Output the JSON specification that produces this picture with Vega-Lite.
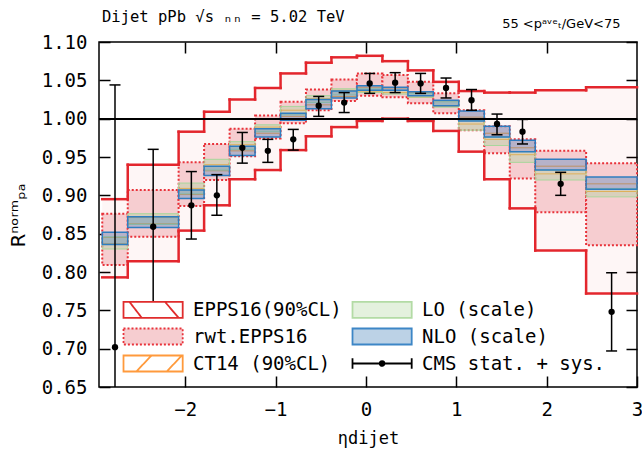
{
  "$schema": "https://vega.github.io/schema/vega-lite/v6.json",
  "width": 538,
  "height": 345,
  "autosize": {"type": "none"},
  "padding": {"left": 99, "top": 42, "right": 5, "bottom": 67},
  "config": {
    "view": {"stroke": "black", "strokeWidth": 1.5},
    "font": "DejaVu Sans Mono",
    "axis": {"domain": false, "grid": false, "tickColor": "black", "tickWidth": 1.5, "labelColor": "black", "titleColor": "black", "titleFontWeight": "normal", "labelFont": "DejaVu Sans Mono", "titleFont": "DejaVu Sans Mono"}
  },
  "title": {"text": "Dijet pPb √s ₙₙ = 5.02 TeV", "anchor": "start", "frame": "group", "dx": 3, "dy": 18, "offset": 10, "fontSize": 15.5, "font": "DejaVu Sans Mono", "fontWeight": "normal", "color": "black"},
  "data": {"values": [
    {"lo":-2.917,"hi":-2.635,"c":-2.776,"eL":0.793,"eH":0.895,"rL":0.809,"rH":0.876,"tL":0.837,"tH":0.845,"lL":0.830,"lH":0.846,"nL":0.836,"nH":0.852,"v":0.702,"vL":0.356,"vH":1.044},
    {"lo":-2.635,"hi":-2.072,"c":-2.3535,"eL":0.814,"eH":0.940,"rL":0.846,"rH":0.907,"tL":0.863,"tH":0.871,"lL":0.862,"lH":0.876,"nL":0.858,"nH":0.872,"v":0.859,"vL":0.760,"vH":0.960},
    {"lo":-2.072,"hi":-1.790,"c":-1.931,"eL":0.854,"eH":0.983,"rL":0.886,"rH":0.943,"tL":0.901,"tH":0.909,"lL":0.902,"lH":0.916,"nL":0.896,"nH":0.907,"v":0.887,"vL":0.843,"vH":0.931},
    {"lo":-1.790,"hi":-1.508,"c":-1.649,"eL":0.887,"eH":1.009,"rL":0.920,"rH":0.967,"tL":0.932,"tH":0.940,"lL":0.933,"lH":0.947,"nL":0.926,"nH":0.938,"v":0.900,"vL":0.874,"vH":0.927},
    {"lo":-1.508,"hi":-1.226,"c":-1.367,"eL":0.921,"eH":1.025,"rL":0.951,"rH":0.987,"tL":0.958,"tH":0.966,"lL":0.960,"lH":0.970,"nL":0.952,"nH":0.964,"v":0.962,"vL":0.942,"vH":0.982},
    {"lo":-1.226,"hi":-0.944,"c":-1.085,"eL":0.933,"eH":1.040,"rL":0.974,"rH":1.004,"tL":0.981,"tH":0.989,"lL":0.983,"lH":0.992,"nL":0.976,"nH":0.987,"v":0.958,"vL":0.943,"vH":0.973},
    {"lo":-0.944,"hi":-0.663,"c":-0.8035,"eL":0.959,"eH":1.059,"rL":0.994,"rH":1.022,"tL":1.003,"tH":1.011,"lL":1.005,"lH":1.016,"nL":0.998,"nH":1.007,"v":0.973,"vL":0.959,"vH":0.986},
    {"lo":-0.663,"hi":-0.381,"c":-0.522,"eL":0.977,"eH":1.073,"rL":1.011,"rH":1.038,"tL":1.018,"tH":1.026,"lL":1.021,"lH":1.030,"nL":1.013,"nH":1.025,"v":1.017,"vL":1.003,"vH":1.029},
    {"lo":-0.381,"hi":-0.099,"c":-0.24,"eL":0.989,"eH":1.080,"rL":1.023,"rH":1.051,"tL":1.029,"tH":1.037,"lL":1.031,"lH":1.039,"nL":1.027,"nH":1.036,"v":1.021,"vL":1.008,"vH":1.034},
    {"lo":-0.099,"hi":0.183,"c":0.042,"eL":0.997,"eH":1.082,"rL":1.030,"rH":1.059,"tL":1.035,"tH":1.041,"lL":1.034,"lH":1.039,"nL":1.037,"nH":1.043,"v":1.046,"vL":1.033,"vH":1.059},
    {"lo":0.183,"hi":0.465,"c":0.324,"eL":1.000,"eH":1.075,"rL":1.028,"rH":1.057,"tL":1.034,"tH":1.040,"lL":1.032,"lH":1.037,"nL":1.037,"nH":1.041,"v":1.047,"vL":1.034,"vH":1.060},
    {"lo":0.465,"hi":0.746,"c":0.6055,"eL":0.997,"eH":1.063,"rL":1.020,"rH":1.048,"tL":1.028,"tH":1.034,"lL":1.028,"lH":1.033,"nL":1.030,"nH":1.035,"v":1.046,"vL":1.033,"vH":1.059},
    {"lo":0.746,"hi":1.028,"c":0.887,"eL":0.984,"eH":1.048,"rL":1.007,"rH":1.033,"tL":1.016,"tH":1.023,"lL":1.015,"lH":1.022,"nL":1.017,"nH":1.024,"v":1.040,"vL":1.027,"vH":1.053},
    {"lo":1.028,"hi":1.310,"c":1.169,"eL":0.957,"eH":1.036,"rL":0.985,"rH":1.011,"tL":0.993,"tH":1.002,"lL":0.985,"lH":0.998,"nL":0.997,"nH":1.010,"v":1.024,"vL":1.011,"vH":1.038},
    {"lo":1.310,"hi":1.592,"c":1.451,"eL":0.921,"eH":1.034,"rL":0.955,"rH":0.990,"tL":0.973,"tH":0.981,"lL":0.965,"lH":0.976,"nL":0.976,"nH":0.990,"v":0.993,"vL":0.979,"vH":1.006},
    {"lo":1.592,"hi":1.874,"c":1.733,"eL":0.883,"eH":1.034,"rL":0.922,"rH":0.973,"tL":0.953,"tH":0.962,"lL":0.943,"lH":0.957,"nL":0.957,"nH":0.972,"v":0.983,"vL":0.967,"vH":0.999},
    {"lo":1.874,"hi":2.437,"c":2.1555,"eL":0.828,"eH":1.037,"rL":0.878,"rH":0.958,"tL":0.928,"tH":0.938,"lL":0.920,"lH":0.933,"nL":0.933,"nH":0.947,"v":0.915,"vL":0.900,"vH":0.930},
    {"lo":2.437,"hi":3.0,"c":2.719,"eL":0.772,"eH":1.041,"rL":0.835,"rH":0.942,"tL":0.905,"tH":0.915,"lL":0.898,"lH":0.909,"nL":0.908,"nH":0.924,"v":0.748,"vL":0.697,"vH":0.799}
  ]},
  "resolve": {"axis": {"x": "independent", "y": "independent"}},
  "layer": [
    {
      "mark": {"type": "rect", "fill": "#e41a1c", "fillOpacity": 0.04},
      "encoding": {
        "x": {"field": "lo", "type": "quantitative", "scale": {"domain": [-2.953, 3.0], "nice": false, "zero": false}, "axis": null},
        "x2": {"field": "hi"},
        "y": {"field": "eL", "type": "quantitative", "scale": {"domain": [0.65, 1.1], "nice": false, "zero": false}, "axis": null},
        "y2": {"field": "eH"}
      }
    },
    {
      "mark": {"type": "rect", "fill": "#f6cdd0", "fillOpacity": 1, "stroke": "#e8323a", "strokeWidth": 2, "strokeDash": [2, 2]},
      "encoding": {
        "x": {"field": "lo", "type": "quantitative", "scale": {"domain": [-2.953, 3.0], "nice": false, "zero": false},
              "axis": {"orient": "bottom", "values": [-2, -1, 0, 1, 2, 3], "format": "d", "tickSize": -11, "labelPadding": 24, "labelFontSize": 19, "labelFlush": false, "title": "ηdijet", "titleFontSize": 17, "titleX": 269, "titleY": 56, "titleBaseline": "alphabetic", "titleAlign": "center"}},
        "x2": {"field": "hi"},
        "y": {"field": "rL", "type": "quantitative", "scale": {"domain": [0.65, 1.1], "nice": false, "zero": false},
              "axis": {"orient": "left", "values": [0.65, 0.7, 0.75, 0.8, 0.85, 0.9, 0.95, 1, 1.05, 1.1], "format": ".2f", "tickSize": -11, "labelPadding": 23, "labelFontSize": 19, "labelFlush": false, "title": "Rⁿᵒʳᵐₚₐ", "titleFont": "DejaVu Sans", "titleFontSize": 20, "titleX": -75, "titleY": 173, "titleAngle": -90, "titleBaseline": "alphabetic", "titleAlign": "center"}},
        "y2": {"field": "rH"}
      }
    },
    {
      "mark": {"type": "rect", "fill": "#ffffff", "fillOpacity": 0, "stroke": "#ff9933", "strokeWidth": 1},
      "encoding": {
        "x": {"field": "lo", "type": "quantitative", "scale": {"domain": [-2.953, 3.0], "nice": false, "zero": false},
              "axis": {"orient": "top", "values": [-2, -1, 0, 1, 2], "labels": false, "tickSize": -11, "title": "55 <pᵃᵛᵉₜ/GeV<75", "titleFont": "DejaVu Sans", "titleFontSize": 13, "titleX": 521, "titleY": -15, "titleAlign": "right", "titleBaseline": "alphabetic", "titleAngle": 0}},
        "x2": {"field": "hi"},
        "y": {"field": "tL", "type": "quantitative", "scale": {"domain": [0.65, 1.1], "nice": false, "zero": false},
              "axis": {"orient": "right", "values": [0.65, 0.7, 0.75, 0.8, 0.85, 0.9, 0.95, 1, 1.05, 1.1], "labels": false, "tickSize": -11, "title": null}},
        "y2": {"field": "tH"}
      }
    },
    {
      "mark": {"type": "rect", "fill": "#a9d69c", "fillOpacity": 0.38, "stroke": "#a9d69c", "strokeWidth": 1},
      "encoding": {
        "x": {"field": "lo", "type": "quantitative", "scale": {"domain": [-2.953, 3.0], "nice": false, "zero": false}, "axis": null},
        "x2": {"field": "hi"},
        "y": {"field": "lL", "type": "quantitative", "scale": {"domain": [0.65, 1.1], "nice": false, "zero": false}, "axis": null},
        "y2": {"field": "lH"}
      }
    },
    {
      "mark": {"type": "rect", "fill": "#4a84bd", "fillOpacity": 0.37, "stroke": "#2f7dc0", "strokeWidth": 1.5},
      "encoding": {
        "x": {"field": "lo", "type": "quantitative", "scale": {"domain": [-2.953, 3.0], "nice": false, "zero": false}, "axis": null},
        "x2": {"field": "hi"},
        "y": {"field": "nL", "type": "quantitative", "scale": {"domain": [0.65, 1.1], "nice": false, "zero": false}, "axis": null},
        "y2": {"field": "nH"}
      }
    },
    {
      "mark": {"type": "rule", "color": "#e3262d", "strokeWidth": 2.5, "strokeCap": "square"},
      "encoding": {
        "x": {"field": "lo", "type": "quantitative", "scale": {"domain": [-2.953, 3.0], "nice": false, "zero": false}, "axis": null},
        "x2": {"field": "hi"},
        "y": {"field": "eH", "type": "quantitative", "scale": {"domain": [0.65, 1.1], "nice": false, "zero": false}, "axis": null}
      }
    },
    {
      "mark": {"type": "rule", "color": "#e3262d", "strokeWidth": 2.5, "strokeCap": "square"},
      "encoding": {
        "x": {"field": "lo", "type": "quantitative", "scale": {"domain": [-2.953, 3.0], "nice": false, "zero": false}, "axis": null},
        "x2": {"field": "hi"},
        "y": {"field": "eL", "type": "quantitative", "scale": {"domain": [0.65, 1.1], "nice": false, "zero": false}, "axis": null}
      }
    },
    {
      "transform": [
        {"window": [{"op": "lead", "field": "eH", "as": "eHn"}], "sort": [{"field": "lo", "order": "ascending"}]},
        {"filter": "isValid(datum.eHn)"}
      ],
      "mark": {"type": "rule", "color": "#e3262d", "strokeWidth": 2.5, "strokeCap": "square"},
      "encoding": {
        "x": {"field": "hi", "type": "quantitative", "scale": {"domain": [-2.953, 3.0], "nice": false, "zero": false}, "axis": null},
        "y": {"field": "eH", "type": "quantitative", "scale": {"domain": [0.65, 1.1], "nice": false, "zero": false}, "axis": null},
        "y2": {"field": "eHn"}
      }
    },
    {
      "transform": [
        {"window": [{"op": "lead", "field": "eL", "as": "eLn"}], "sort": [{"field": "lo", "order": "ascending"}]},
        {"filter": "isValid(datum.eLn)"}
      ],
      "mark": {"type": "rule", "color": "#e3262d", "strokeWidth": 2.5, "strokeCap": "square"},
      "encoding": {
        "x": {"field": "hi", "type": "quantitative", "scale": {"domain": [-2.953, 3.0], "nice": false, "zero": false}, "axis": null},
        "y": {"field": "eL", "type": "quantitative", "scale": {"domain": [0.65, 1.1], "nice": false, "zero": false}, "axis": null},
        "y2": {"field": "eLn"}
      }
    },
    {
      "mark": {"type": "rule", "color": "black", "strokeWidth": 1.3},
      "encoding": {
        "y": {"datum": 1, "type": "quantitative", "scale": {"domain": [0.65, 1.1], "nice": false, "zero": false}, "axis": null}
      }
    },
    {
      "mark": {"type": "rule", "color": "black", "strokeWidth": 1.5, "clip": true},
      "encoding": {
        "x": {"field": "c", "type": "quantitative", "scale": {"domain": [-2.953, 3.0], "nice": false, "zero": false}, "axis": null},
        "y": {"field": "vL", "type": "quantitative", "scale": {"domain": [0.65, 1.1], "nice": false, "zero": false}, "axis": null},
        "y2": {"field": "vH"}
      }
    },
    {
      "mark": {"type": "tick", "orient": "horizontal", "color": "black", "size": 11, "thickness": 1.5, "opacity": 1, "clip": true},
      "encoding": {
        "x": {"field": "c", "type": "quantitative", "scale": {"domain": [-2.953, 3.0], "nice": false, "zero": false}, "axis": null},
        "y": {"field": "vH", "type": "quantitative", "scale": {"domain": [0.65, 1.1], "nice": false, "zero": false}, "axis": null}
      }
    },
    {
      "mark": {"type": "tick", "orient": "horizontal", "color": "black", "size": 11, "thickness": 1.5, "opacity": 1, "clip": true},
      "encoding": {
        "x": {"field": "c", "type": "quantitative", "scale": {"domain": [-2.953, 3.0], "nice": false, "zero": false}, "axis": null},
        "y": {"field": "vL", "type": "quantitative", "scale": {"domain": [0.65, 1.1], "nice": false, "zero": false}, "axis": null}
      }
    },
    {
      "mark": {"type": "point", "filled": true, "color": "black", "size": 40, "opacity": 1},
      "encoding": {
        "x": {"field": "c", "type": "quantitative", "scale": {"domain": [-2.953, 3.0], "nice": false, "zero": false}, "axis": null},
        "y": {"field": "v", "type": "quantitative", "scale": {"domain": [0.65, 1.1], "nice": false, "zero": false}, "axis": null}
      }
    },
    {
      "transform": [{"filter": "false"}],
      "mark": {"type": "point", "filled": true},
      "encoding": {
        "x": {"field": "c", "type": "quantitative", "scale": {"domain": [-2.953, 3.0], "nice": false, "zero": false}, "axis": null},
        "y": {"field": "v", "type": "quantitative", "scale": {"domain": [0.65, 1.1], "nice": false, "zero": false}, "axis": null},
        "shape": {"datum": "EPPS16(90%CL)", "type": "nominal",
          "scale": {"domain": ["EPPS16(90%CL)", "rwt.EPPS16", "CT14 (90%CL)", "LO (scale)", "NLO (scale)", "CMS stat. + sys."],
                    "range": ["M-1,-1H6.4V1H-1ZM-0.25,-1L1.3,1M4.2,-1L5.9,1", "M-1,-1H6.4V1H-1Z", "M-1,-1H6.4V1H-1ZM0.6,1L2.5,-1M4.4,1L6.3,-1", "M-1,-1H6.4V1H-1Z", "M-1,-1H6.4V1H-1Z", "M-1,-0.67V0.67M-1,0H6.4M6.4,-0.67V0.67M2.4,0A0.3,0.3,0,1,0,3.0,0A0.3,0.3,0,1,0,2.4,0Z"]},
          "legend": {"orient": "none", "legendX": 23, "legendY": 258, "columns": 2, "columnPadding": 6, "rowPadding": 2, "symbolSize": 256, "symbolStrokeWidth": 1.8, "symbolOpacity": 1, "labelOffset": 52, "labelFont": "DejaVu Sans Mono", "labelFontSize": 19, "labelColor": "black", "labelLimit": 400, "title": null}},
        "fill": {"datum": "EPPS16(90%CL)", "type": "nominal",
          "scale": {"domain": ["EPPS16(90%CL)", "rwt.EPPS16", "CT14 (90%CL)", "LO (scale)", "NLO (scale)", "CMS stat. + sys."],
                    "range": ["#ffffff", "#f6cdd0", "#ffffff", "#e4f1de", "#bcd2e6", "#000000"]},
          "legend": {"title": null}},
        "stroke": {"datum": "EPPS16(90%CL)", "type": "nominal",
          "scale": {"domain": ["EPPS16(90%CL)", "rwt.EPPS16", "CT14 (90%CL)", "LO (scale)", "NLO (scale)", "CMS stat. + sys."],
                    "range": ["#e02c2c", "#e8323a", "#ff9a3c", "#b3dba5", "#3d86c6", "#000000"]},
          "legend": {"title": null}},
        "strokeDash": {"datum": "EPPS16(90%CL)", "type": "nominal",
          "scale": {"domain": ["EPPS16(90%CL)", "rwt.EPPS16", "CT14 (90%CL)", "LO (scale)", "NLO (scale)", "CMS stat. + sys."],
                    "range": [[1, 0], [2, 2], [1, 0], [1, 0], [1, 0], [1, 0]]},
          "legend": {"title": null}}
      }
    }
  ]
}
